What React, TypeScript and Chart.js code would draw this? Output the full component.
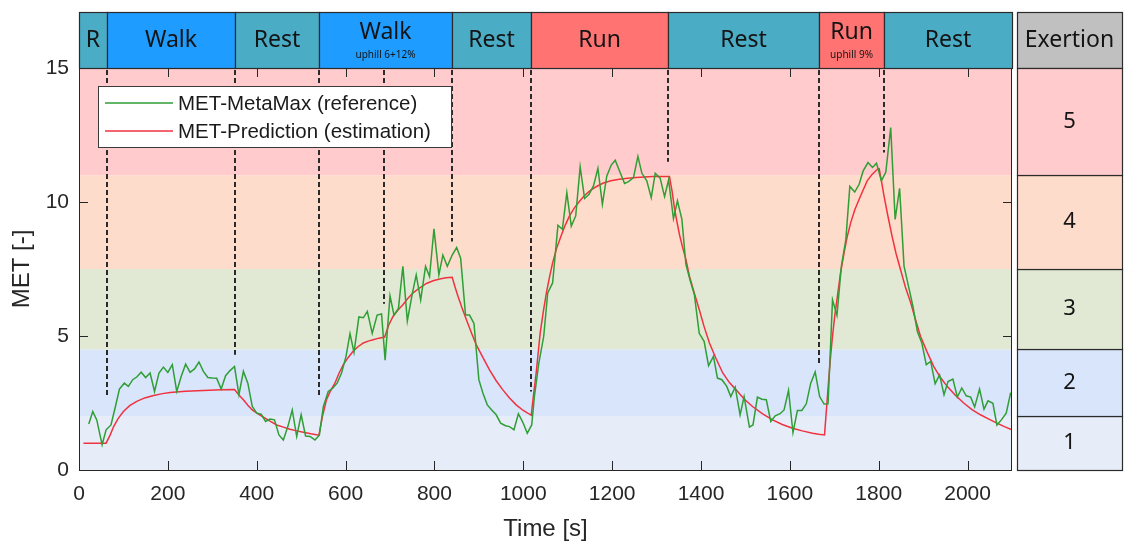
import React, { useEffect, useRef } from "react";
import { Chart, registerables } from "chart.js";

Chart.register(...registerables);

// ---------- DATA ----------
const metaMaxTimes = [
  22, 31, 40, 52, 61, 72, 82, 91, 102, 111, 121, 130, 140, 150, 160, 170, 180, 190, 200, 210,
  220, 230, 240, 250, 260, 270, 280, 290, 300, 310, 320, 330, 340, 350, 360, 370, 380, 390, 400, 410,
  420, 430, 440, 450, 460, 470, 480, 490, 500, 510, 520, 531, 541, 550, 561, 571, 581, 591, 601, 610,
  619, 630, 640, 649, 660, 671, 681, 689, 700, 709, 719, 729, 739, 750, 759, 769, 780, 789, 799, 810,
  819, 829, 840, 850, 859, 870, 879, 889, 900, 909, 919, 929, 939, 949, 960, 969, 979, 989, 999, 1009,
  1019, 1025, 1035, 1046, 1055, 1066, 1078, 1088, 1098, 1108, 1118, 1128, 1138, 1148, 1158, 1168, 1178, 1188, 1198, 1207,
  1218, 1228, 1237, 1248, 1258, 1267, 1278, 1288, 1297, 1308, 1318, 1327, 1338, 1347, 1357, 1366, 1376, 1385, 1396, 1407,
  1417, 1428, 1437, 1447, 1458, 1467, 1477, 1488, 1497, 1509, 1517, 1527, 1537, 1547, 1557, 1567, 1578, 1587, 1597, 1607,
  1617, 1627, 1637, 1647, 1657, 1667, 1677, 1686, 1696, 1706, 1716, 1726, 1735, 1746, 1756, 1765, 1776, 1786, 1795, 1806,
  1816, 1827, 1837, 1847, 1857, 1867, 1877, 1887, 1897, 1907, 1917, 1927, 1937, 1947, 1956, 1967, 1977, 1987, 1997, 2007,
  2016, 2027, 2037, 2046, 2057, 2066, 2076, 2087, 2097,
];
const metaMaxValues = [
  1.72, 2.18, 1.87, 0.94, 1.5, 1.68, 2.37, 3.02, 3.24, 3.12, 3.37, 3.47, 3.65, 3.45, 3.62, 2.93, 3.62, 3.84, 3.64, 3.93,
  2.93, 3.49, 3.95, 3.64, 3.77, 4.03, 3.68, 3.45, 3.43, 3.42, 3.02, 3.52, 3.71, 3.86, 2.81, 3.68, 3.24, 2.37, 2.12, 2.08,
  1.81, 1.9, 1.87, 1.31, 1.12, 1.62, 2.24, 1.25, 2.06, 1.27, 1.25, 1.12, 1.3, 2.37, 2.93, 3.05, 3.24, 3.62, 4.24, 5.09,
  4.39, 5.71, 5.68, 5.92, 5.1, 5.78, 5.82, 4.1, 6.5, 5.78, 6.03, 7.6, 5.56, 6.56, 7.28, 6.34, 7.6, 7.22, 9.0, 7.28,
  8.02, 7.6, 8.02, 8.3, 7.9, 5.78, 5.78, 5.47, 3.37, 2.87, 2.43, 2.24, 2.06, 1.75, 1.65, 1.62, 1.5, 2.1, 1.78, 1.37,
  1.68, 2.74, 3.99, 4.99, 6.61, 6.98, 9.13, 8.98, 10.35, 9.1, 9.48, 11.31, 10.13, 10.29, 10.6, 11.26, 9.91, 10.97, 11.38, 11.56,
  11.1, 10.69, 10.76, 10.91, 11.7, 11.07, 10.79, 10.16, 11.07, 10.89, 10.2, 10.82, 9.38, 10.04, 9.35, 7.67, 7.05, 6.55, 5.1, 4.8,
  3.89, 4.24, 3.43, 3.37, 3.12, 2.74, 3.09, 2.06, 2.74, 1.6, 1.68, 2.72, 2.64, 2.62, 1.81, 2.02, 2.1, 2.24, 2.97, 1.4,
  2.22, 2.22, 2.47, 3.24, 3.66, 2.74, 2.46, 2.47, 6.35, 5.77, 7.61, 8.6, 10.58, 10.37, 10.66, 11.16, 11.47, 11.29, 11.45, 10.79,
  11.12, 12.78, 9.35, 10.51, 7.61, 6.86, 6.11, 5.17, 4.74, 3.93, 4.05, 3.22, 3.55, 2.81, 3.3, 3.39, 2.72, 3.06, 2.77, 2.72,
  2.35, 3.02, 2.27, 2.58, 2.49, 1.68, 1.87, 2.12, 2.89,
];

const predictionTimes = [
  10, 61, 70, 78, 88, 100, 114, 130, 148, 168, 188, 205, 240, 280, 320, 350,
  360, 370, 380, 390, 402, 415, 430, 445, 460, 475, 490, 505, 522, 540,
  548, 557, 566, 576, 585, 595, 606, 617, 628, 640, 651, 662, 675, 688,
  697, 707, 718, 729, 740, 752, 767, 782, 797, 812, 826, 840,
  846, 853, 862, 872, 883, 894, 909, 924, 939, 954, 969, 984, 1000, 1018,
  1023, 1029, 1034, 1038, 1045, 1052, 1059, 1066, 1075, 1085, 1094, 1104, 1115, 1127, 1138, 1149, 1164, 1179, 1197, 1216, 1235, 1254, 1272, 1291, 1310, 1329,
  1335, 1340, 1346, 1352, 1359, 1366, 1374, 1385, 1396, 1407, 1419, 1434, 1449, 1464, 1479, 1497, 1516, 1538, 1561, 1583, 1606, 1628, 1651, 1665, 1678,
  1683, 1688, 1692, 1696, 1701, 1707, 1714, 1722, 1729, 1737, 1746, 1756, 1765, 1774, 1785, 1797, 1801,
  1806, 1812, 1821, 1830, 1839, 1849, 1860, 1872, 1883, 1894, 1909, 1924, 1939, 1954, 1973, 1992, 2010, 2029, 2048, 2066, 2083, 2100,
];
const predictionValues = [
  1.0, 1.0, 1.3, 1.62, 1.92, 2.18, 2.4, 2.56, 2.69, 2.78, 2.85, 2.89, 2.94, 2.97, 2.99, 3.0,
  2.8, 2.62, 2.42, 2.24, 2.1, 1.97, 1.82, 1.68, 1.6, 1.52, 1.46, 1.41, 1.35, 1.3,
  2.0, 2.62, 2.95, 3.24, 3.6, 3.93, 4.2, 4.43, 4.6, 4.74, 4.81, 4.86, 4.92, 4.96,
  5.4, 5.74, 5.97, 6.17, 6.4, 6.61, 6.8, 6.96, 7.06, 7.13, 7.17, 7.19,
  6.85, 6.48, 6.05, 5.61, 5.13, 4.68, 4.2, 3.74, 3.33, 2.99, 2.69, 2.43, 2.22, 2.04,
  2.8, 3.62, 4.45, 5.11, 5.9, 6.61, 7.2, 7.73, 8.27, 8.73, 9.12, 9.48, 9.78, 10.04, 10.24, 10.41, 10.57, 10.7, 10.79, 10.85, 10.89, 10.91, 10.93, 10.95, 10.95, 10.95,
  10.4, 9.8, 9.25, 8.75, 8.28, 7.86, 7.23, 6.6, 5.99, 5.35, 4.74, 4.15, 3.62, 3.26, 2.99, 2.65, 2.37, 2.1, 1.87, 1.7, 1.56, 1.46, 1.37, 1.33, 1.31,
  2.4, 3.49, 4.3, 4.99, 5.75, 6.48, 7.35, 8.1, 8.7, 9.23, 9.7, 10.1, 10.45, 10.79, 11.03, 11.22, 11.24,
  10.8, 10.22, 9.45, 8.73, 8.08, 7.48, 6.83, 6.24, 5.6, 4.99, 4.4, 3.86, 3.45, 3.12, 2.78, 2.49, 2.25, 2.06, 1.9, 1.75, 1.62, 1.5,
];

const phaseBoundaries = [0, 64, 350, 540, 840, 1017, 1326, 1666, 1812, 2100];
const phaseLabels = ["R", "Walk", "Rest", "Walk", "Rest", "Run", "Rest", "Run", "Rest"];
const phaseSubLabels = ["", "", "", "uphill 6+12%", "", "", "", "uphill 9%", ""];
const phaseKinds = ["rest", "walk", "rest", "walk", "rest", "run", "rest", "run", "rest"];

const markerTimes = [64, 350, 540, 687, 840, 1017, 1326, 1666, 1812];
const markerEnds = [2.8, 4.3, 2.8, 6.2, 8.53, 2.93, 11.5, 3.9, 11.85];

const exertionLabels = ["1", "2", "3", "4", "5"];
const exertionBounds = [0, 2, 4.5, 7.5, 11, 15];

const xTickStep = 200;
const yTickStep = 5;
const seriesNames = ["MET-MetaMax (reference)", "MET-Prediction (estimation)"];

// ---------- STYLE ----------
const bandColors = ["#e6ecf8", "#d8e5fb", "#e1e9d5", "#fedccb", "#ffcbcc"];
const phaseColors: Record<string, string> = { rest: "#4bacc6", walk: "#1e9cff", run: "#ff7373" };
const GREEN = "#2f9e35";
const RED = "#f0323f";
const AXIS = "#262626";
const LABEL_FONT = "'Noto Sans', sans-serif";
const AXIS_FONT = "'Liberation Sans', Arial, sans-serif";

const decorPlugin = {
  id: "decor",
  beforeDatasetsDraw(chart: any) {
    const { ctx, chartArea: a, scales } = chart;
    const x = scales.x;
    const y = scales.y;
    ctx.save();
    for (let i = 0; i < exertionLabels.length; i++) {
      const y0 = y.getPixelForValue(exertionBounds[i]);
      const y1 = y.getPixelForValue(exertionBounds[i + 1]);
      ctx.fillStyle = bandColors[i];
      ctx.fillRect(a.left, y1, a.right - a.left, y0 - y1);
    }
    ctx.setLineDash([5, 3]);
    ctx.lineWidth = 2;
    ctx.strokeStyle = "#2a2a2a";
    markerTimes.forEach((t, i) => {
      const px = Math.round(x.getPixelForValue(t));
      ctx.beginPath();
      ctx.moveTo(px, a.top + 2);
      ctx.lineTo(px, y.getPixelForValue(markerEnds[i]));
      ctx.stroke();
    });
    ctx.restore();
  },
  afterDatasetsDraw(chart: any) {
    const { ctx, chartArea: a, scales } = chart;
    const x = scales.x;
    const y = scales.y;
    ctx.save();

    // axes box + inward ticks
    ctx.strokeStyle = AXIS;
    ctx.lineWidth = 1;
    ctx.strokeRect(a.left + 0.5, a.top + 0.5, a.right - a.left - 1, a.bottom - a.top);
    const tl = 9;
    ctx.beginPath();
    x.ticks.forEach((tk: any) => {
      if (tk.value <= x.min || tk.value >= x.max) return;
      const px = Math.round(x.getPixelForValue(tk.value)) + 0.5;
      ctx.moveTo(px, a.bottom);
      ctx.lineTo(px, a.bottom - tl);
      ctx.moveTo(px, a.top);
      ctx.lineTo(px, a.top + tl);
    });
    y.ticks.forEach((tk: any) => {
      if (tk.value <= y.min || tk.value >= y.max) return;
      const py = Math.round(y.getPixelForValue(tk.value)) + 0.5;
      ctx.moveTo(a.left, py);
      ctx.lineTo(a.left + tl, py);
      ctx.moveTo(a.right, py);
      ctx.lineTo(a.right - tl, py);
    });
    ctx.stroke();

    // legend
    const lx = 98, ly = 86, lw = 353, lh = 61;
    ctx.fillStyle = "#ffffff";
    ctx.fillRect(lx, ly, lw, lh);
    ctx.strokeStyle = "#3a3a3a";
    ctx.lineWidth = 1;
    ctx.strokeRect(lx + 0.5, ly + 0.5, lw, lh);
    const rows = [ly + 17, ly + 45];
    [GREEN, RED].forEach((c, i) => {
      ctx.strokeStyle = c;
      ctx.lineWidth = 1.5;
      ctx.beginPath();
      ctx.moveTo(lx + 7, rows[i]);
      ctx.lineTo(lx + 75, rows[i]);
      ctx.stroke();
      ctx.fillStyle = "#1a1a1a";
      ctx.font = `20.5px ${AXIS_FONT}`;
      ctx.textAlign = "left";
      ctx.textBaseline = "middle";
      ctx.fillText(seriesNames[i], lx + 80, rows[i] + 1);
    });

    // top phase bar
    const barTop = 12;
    const barBottom = a.top;
    for (let i = 0; i < phaseLabels.length; i++) {
      const x0 = Math.round(x.getPixelForValue(phaseBoundaries[i]));
      const x1 = Math.round(x.getPixelForValue(phaseBoundaries[i + 1]));
      ctx.fillStyle = phaseColors[phaseKinds[i]];
      ctx.fillRect(x0, barTop, x1 - x0, barBottom - barTop);
      ctx.strokeStyle = "#2b2b2b";
      ctx.lineWidth = 1.2;
      ctx.strokeRect(x0 + 0.5, barTop + 0.5, x1 - x0, barBottom - barTop);
      const cx = (x0 + x1) / 2;
      ctx.fillStyle = "#141414";
      ctx.textAlign = "center";
      ctx.textBaseline = "middle";
      if (phaseSubLabels[i]) {
        ctx.font = `23px ${LABEL_FONT}`;
        ctx.fillText(phaseLabels[i], cx, barTop + 20);
        ctx.font = `10px ${LABEL_FONT}`;
        ctx.fillText(phaseSubLabels[i], cx, barTop + 43);
      } else {
        ctx.font = `23px ${LABEL_FONT}`;
        ctx.fillText(phaseLabels[i], cx, (barTop + barBottom) / 2);
      }
    }

    // right exertion panel
    const px0 = 1017, px1 = 1122;
    ctx.fillStyle = "#c0c0c0";
    ctx.fillRect(px0, barTop, px1 - px0, barBottom - barTop);
    ctx.strokeStyle = "#2b2b2b";
    ctx.lineWidth = 1.2;
    ctx.strokeRect(px0 + 0.5, barTop + 0.5, px1 - px0, barBottom - barTop);
    ctx.fillStyle = "#141414";
    ctx.font = `23px ${LABEL_FONT}`;
    ctx.textAlign = "center";
    ctx.textBaseline = "middle";
    ctx.fillText("Exertion", (px0 + px1) / 2, (barTop + barBottom) / 2);
    for (let i = 0; i < exertionLabels.length; i++) {
      const y0 = Math.round(y.getPixelForValue(exertionBounds[i]));
      const y1 = Math.round(y.getPixelForValue(exertionBounds[i + 1]));
      ctx.fillStyle = bandColors[i];
      ctx.fillRect(px0, y1, px1 - px0, y0 - y1);
      ctx.strokeStyle = "#2b2b2b";
      ctx.strokeRect(px0 + 0.5, y1 + 0.5, px1 - px0, y0 - y1);
      ctx.fillStyle = "#141414";
      ctx.font = `22px ${LABEL_FONT}`;
      ctx.fillText(exertionLabels[i], (px0 + px1) / 2, (y0 + y1) / 2);
    }
    ctx.restore();
  },
};

export default function App() {
  const canvasRef = useRef<HTMLCanvasElement | null>(null);

  useEffect(() => {
    document.body.style.margin = "0";
    const canvas = canvasRef.current;
    if (!canvas) return;
    const chart = new Chart(canvas, {
      type: "line",
      data: {
        datasets: [
          {
            label: seriesNames[0],
            data: metaMaxTimes.map((t, i) => ({ x: t, y: metaMaxValues[i] })),
            borderColor: GREEN,
            borderWidth: 1.5,
            pointRadius: 0,
            tension: 0,
          },
          {
            label: seriesNames[1],
            data: predictionTimes.map((t, i) => ({ x: t, y: predictionValues[i] })),
            borderColor: RED,
            borderWidth: 1.5,
            pointRadius: 0,
            tension: 0,
          },
        ],
      },
      options: {
        responsive: false,
        animation: false,
        devicePixelRatio: 1,
        layout: { padding: { top: 68, right: 114, left: 0, bottom: 0 } },
        plugins: { legend: { display: false }, tooltip: { enabled: false } },
        scales: {
          x: {
            type: "linear",
            min: 0,
            max: 2100,
            grid: { display: false, drawTicks: false },
            border: { display: false },
            ticks: {
              stepSize: xTickStep,
              autoSkip: false,
              includeBounds: false,
              padding: 12,
              color: AXIS,
              font: { family: AXIS_FONT, size: 21 },
              maxRotation: 0,
              callback: (v: any) => String(v),
            },
            title: {
              display: true,
              text: "Time [s]",
              color: AXIS,
              font: { family: AXIS_FONT, size: 24 },
              padding: { top: 0, bottom: -3 },
            },
            afterFit: (s: any) => {
              s.height = 71;
            },
          },
          y: {
            type: "linear",
            min: 0,
            max: 15,
            grid: { display: false, drawTicks: false },
            border: { display: false },
            ticks: {
              stepSize: yTickStep,
              padding: 10,
              color: AXIS,
              font: { family: AXIS_FONT, size: 21 },
              callback: (v: any) => String(v),
            },
            title: {
              display: true,
              text: "MET [-]",
              color: AXIS,
              font: { family: AXIS_FONT, size: 24 },
              padding: { top: 8, bottom: 0 },
            },
            afterFit: (s: any) => {
              s.width = 79;
            },
          },
        },
      },
      plugins: [decorPlugin],
    });
    return () => chart.destroy();
  }, []);

  return (
    <div style={{ width: 1126, height: 541 }}>
      <canvas ref={canvasRef} width={1126} height={541} style={{ display: "block" }} />
    </div>
  );
}
